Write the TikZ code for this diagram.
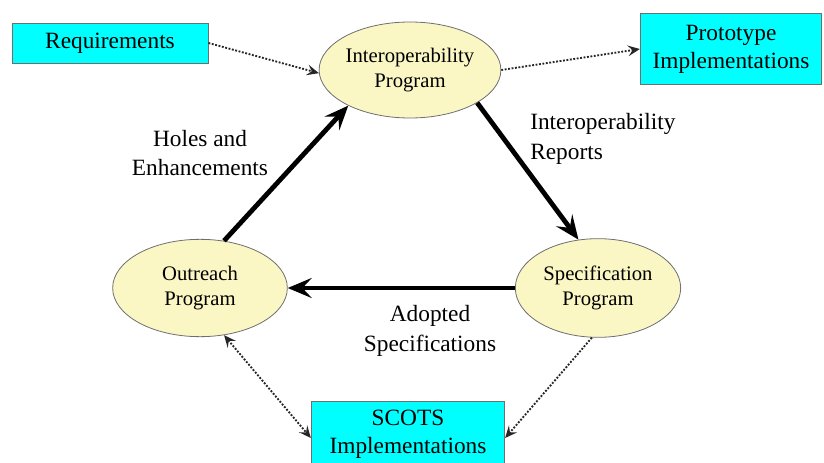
\documentclass[tikz,border=0pt]{standalone}
\usepackage{fontspec}
\setmainfont{Liberation Serif}
\usetikzlibrary{shapes.geometric,arrows.meta}
\definecolor{boxcyan}{RGB}{0,255,255}
\definecolor{progfill}{RGB}{250,247,196}
\definecolor{edgegray}{RGB}{110,110,110}
\begin{document}
\begin{tikzpicture}[x=0.75pt,y=-0.75pt,
  prog/.style={ellipse,draw=edgegray,line width=0.6pt,fill=progfill,inner sep=0pt,
    align=center,font=\fontsize{15.5}{19}\selectfont},
  outbox/.style={rectangle,draw=edgegray,line width=0.7pt,fill=boxcyan,inner sep=0pt,
    align=center,font=\fontsize{17.5}{21}\selectfont},
  flowlabel/.style={align=center,font=\fontsize{17.5}{22}\selectfont,inner sep=0pt},
  mainflow/.style={line width=3.6pt,-{Stealth[length=18pt,width=15pt,inset=7pt]}},
  dotline/.style={line width=1.4pt,dash pattern=on 1.4pt off 1.2pt,draw=black!85},
  tipd/.tip={Stealth[length=9pt,width=8pt,inset=3.5pt]},
  linkflow/.style={dotline,-tipd},
  duallink/.style={dotline,tipd-tipd}]
  \useasboundingbox (0,0) rectangle (824,463);
  \begin{scope}
    \clip (0,0) rectangle (824,463);
    % program ellipses
    \node[prog,minimum width=135pt,minimum height=72pt] (interop) at (410,70) {Interoperability\\Program};
    \node[prog,minimum width=131pt,minimum height=73pt] (outreach) at (200,288) {Outreach\\Program};
    \node[prog,minimum width=124pt,minimum height=74pt] (spec) at (598,288) {Specification\\Program};
    % outcome boxes
    \node[outbox,minimum width=147pt,minimum height=30pt] (req) at (110,43) {Requirements};
    \node[outbox,minimum width=136pt,minimum height=53pt] (proto) at (731,49) {Prototype\\Implementations};
    \node[outbox,minimum width=145pt,minimum height=49.5pt] (scots) at (408,434) {SCOTS\\Implementations};
  \end{scope}
  % main cycle
  \draw[mainflow] (outreach.63) -- (interop.210);
  \draw[mainflow] (interop.334) -- (spec.112);
  \draw[mainflow] (spec.west) -- (outreach.east);
  % side links
  \draw[linkflow] (req.east) -- (interop.182);
  \draw[linkflow] (interop.east) -- (proto.west);
  \draw[duallink] (outreach.297) -- ([yshift=-3pt]scots.west);
  \draw[linkflow] (spec.263) -- ([yshift=-3pt]scots.east);
  % cycle labels
  \node[flowlabel] (holes) at (200,153) {Holes and\\Enhancements};
  \node[flowlabel,align=left,anchor=west] (reports) at (530,139) {Interoperability\\Reports};
  \node[flowlabel] (adopted) at (430,331) {Adopted\\Specifications};
\end{tikzpicture}
\end{document}
